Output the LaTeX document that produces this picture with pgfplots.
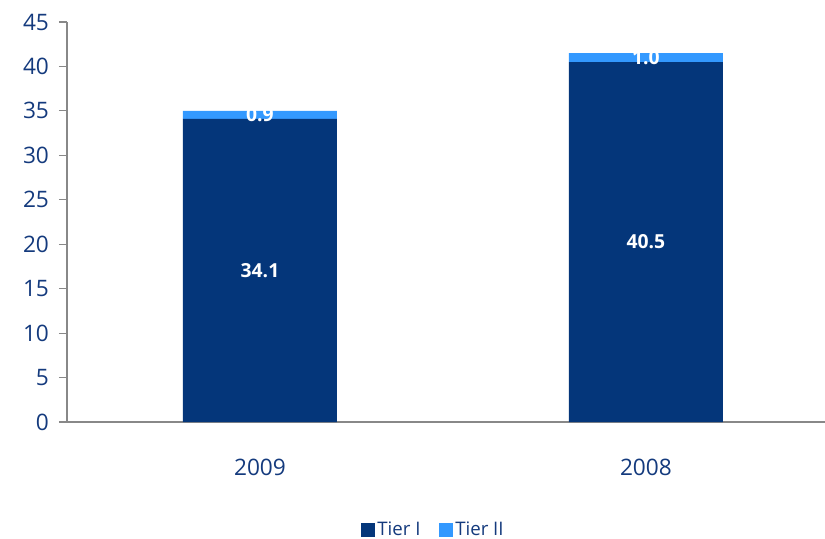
\documentclass[border=0pt]{standalone}
\usepackage{pgfplots}
\pgfplotsset{compat=1.18}
\usepackage{fontspec}
\setmainfont{Open Sans}
\definecolor{navy}{RGB}{4,54,122}
\definecolor{lblue}{RGB}{51,153,255}
\definecolor{txt}{RGB}{20,58,125}
\definecolor{axgray}{RGB}{136,136,136}
\begin{document}
\begin{tikzpicture}
\pgfplotstableread{
x tierI tierII
0 34.1 0.9
1 40.5 1.0
}\datatable
\begin{axis}[
  scale only axis,
  width=568.5pt, height=300pt,
  ybar stacked, bar width=115.5pt,
  xmin=-0.5, xmax=1.464,
  ymin=0, ymax=45,
  ytick={0,5,...,45},
  xtick={0,1}, xticklabels={2009,2008},
  extra x ticks={-0.5,0.5},
  extra x tick labels={},
  extra x tick style={major tick length=5pt, tick style={axgray, line width=0.9pt}, tick align=outside},
  major x tick style={draw=none},
  axis x line*=bottom, axis y line*=left,
  axis line style={axgray, line width=1.1pt, -},
  y tick style={axgray, line width=0.9pt},
  tick align=outside, major tick length=6pt,
  /pgf/number format/assume math mode=true,
  ticklabel style={font=\fontsize{17}{20}\selectfont, text=txt},
  xticklabel style={yshift=-18pt},
  yticklabel style={xshift=-4pt},
  legend style={at={(0.484,-0.27)}, anchor=center, draw=none, legend columns=-1,
    font=\fontsize{14}{16}\selectfont, text=txt,
    /tikz/every even column/.append style={column sep=12pt}},
  legend image code/.code={\fill[#1] (0pt,-5pt) rectangle (10pt,5pt);},
  point meta=rawy,
  nodes near coords={\pgfmathprintnumber[fixed, fixed zerofill, precision=1]{\pgfplotspointmeta}},
  every node near coord/.append style={anchor=center, font=\bfseries\fontsize{14.5}{17}\selectfont, text=white,
    /pgf/number format/assume math mode=true},
  clip=false,
]
\addplot[fill=navy, draw=none] table[x=x, y=tierI] {\datatable};
\addplot[fill=lblue, draw=none] table[x=x, y=tierII] {\datatable};
\legend{Tier I, Tier II}
\end{axis}
\pgfresetboundingbox
\useasboundingbox ([shift={(-50.25pt,-87.75pt)}]current axis.south west) rectangle ([shift={(0pt,16.5pt)}]current axis.north east);
\end{tikzpicture}
\end{document}
